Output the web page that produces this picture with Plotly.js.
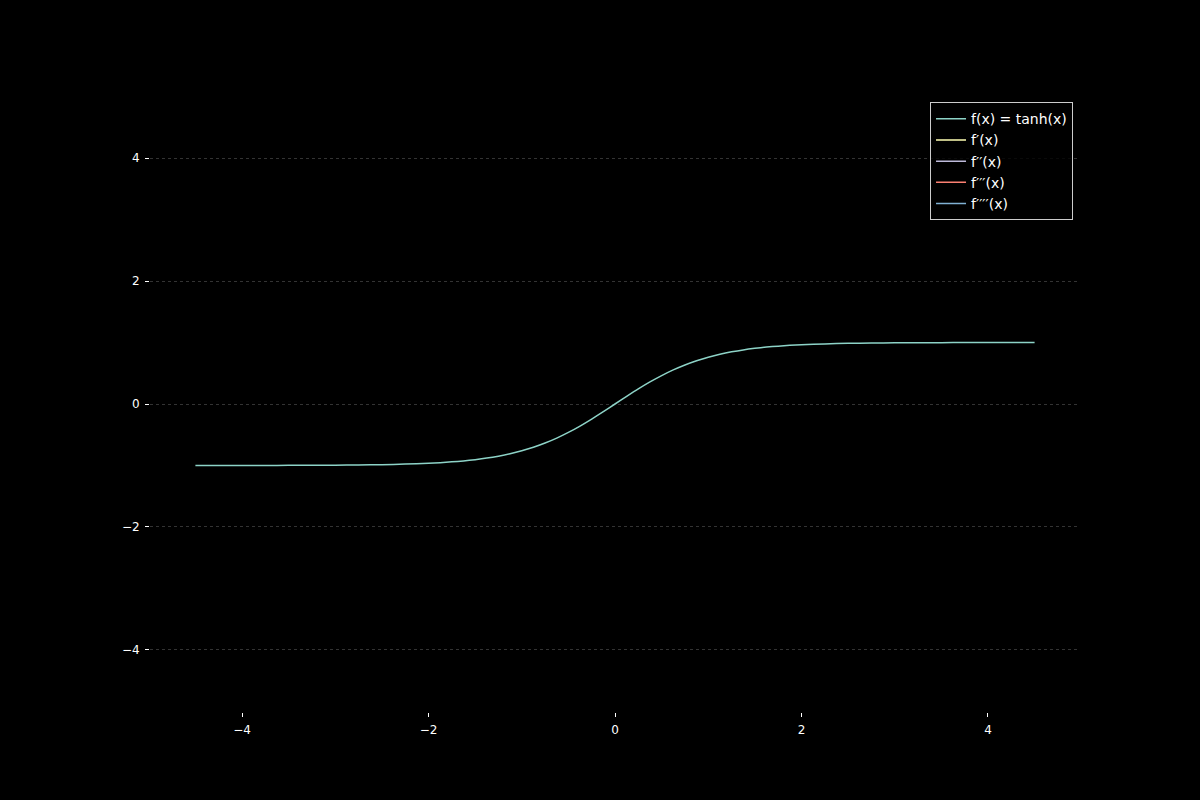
<!DOCTYPE html>
<html><head><meta charset="utf-8">
<script src="https://cdn.plot.ly/plotly-3.0.1.min.js"></script>
<style>html,body{margin:0;padding:0;background:#000;}#chart{width:1200px;height:800px;}</style>
</head><body><div id="chart"></div>
<script>
const xVals = [-4.5,-4.25,-4,-3.75,-3.5,-3.25,-3,-2.75,-2.5,-2.25,-2,-1.875,-1.75,-1.625,-1.5,-1.375,-1.25,-1.125,-1,-0.875,-0.75,-0.625,-0.5,-0.375,-0.25,-0.125,0,0.125,0.25,0.375,0.5,0.625,0.75,0.875,1,1.125,1.25,1.375,1.5,1.625,1.75,1.875,2,2.25,2.5,2.75,3,3.25,3.5,3.75,4,4.25,4.5];
const tanhVals = [-0.9998,-0.9996,-0.9993,-0.9989,-0.9982,-0.9970,-0.9951,-0.9918,-0.9866,-0.9780,-0.9640,-0.9539,-0.9414,-0.9259,-0.9051,-0.8800,-0.8483,-0.8095,-0.7616,-0.7039,-0.6351,-0.5546,-0.4621,-0.3584,-0.2449,-0.1244,0,0.1244,0.2449,0.3584,0.4621,0.5546,0.6351,0.7039,0.7616,0.8095,0.8483,0.8800,0.9051,0.9259,0.9414,0.9539,0.9640,0.9780,0.9866,0.9918,0.9951,0.9970,0.9982,0.9989,0.9993,0.9996,0.9998];
const seriesNames = ["f(x) = tanh(x)","f′(x)","f′′(x)","f′′′(x)","f′′′′(x)"];
const seriesColors = ["#8dd3c7","#ffffb3","#bebada","#fb8072","#80b1d3"];

const traces = seriesNames.map((n,i)=>({
  type:'scatter', mode:'lines', name:n,
  x: i===0 ? xVals : [null],
  y: i===0 ? tanhVals : [null],
  line:{color:seriesColors[i], width:1.5, shape:'spline', smoothing:0.6},
  showlegend:true
}));

const axisCommon = {
  showline:false, zeroline:false,
  showgrid:true, gridcolor:'#333333', griddash:'dot', gridwidth:1,
  ticks:'outside', ticklen:4, tickcolor:'#ffffff', tickwidth:1,
  ticklabelstandoff:3,
  tickfont:{color:'#ffffff', size:12, family:'DejaVu Sans'},
  dtick:2
};
const layout = {
  width:1200, height:800,
  paper_bgcolor:'#000000', plot_bgcolor:'#000000',
  margin:{l:150, r:120, t:96, b:88},
  showlegend:true,
  xaxis:Object.assign({}, axisCommon, {range:[-4.987,4.987], showgrid:false}),
  yaxis:Object.assign({}, axisCommon, {range:[-5.01,5.01]}),
  legend:{
    x:0.9925, y:0.99, xanchor:'right', yanchor:'top',
    bgcolor:'rgba(0,0,0,0.8)', bordercolor:'#cccccc', borderwidth:1,
    font:{color:'#ffffff', size:14, family:'DejaVu Sans'},
    tracegroupgap:0, itemwidth:30
  },
  font:{family:'DejaVu Sans', color:'#ffffff'}
};
Plotly.newPlot('chart', traces, layout, {displayModeBar:false});
</script></body></html>
